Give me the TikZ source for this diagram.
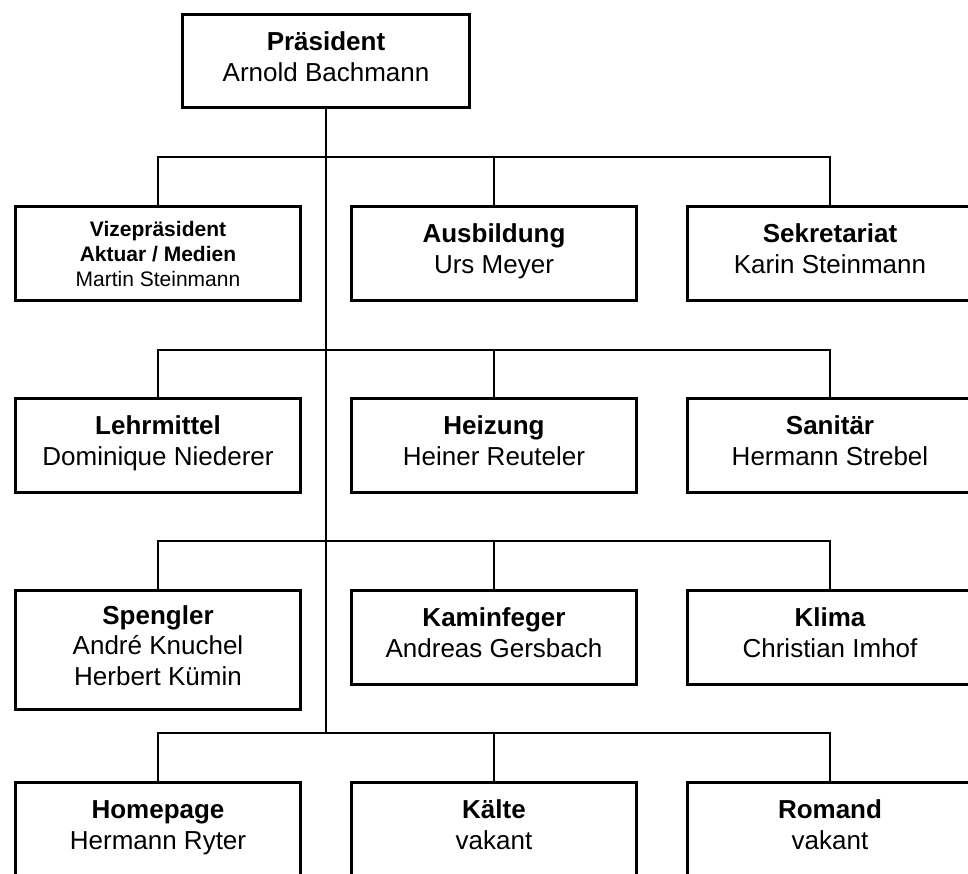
\documentclass[tikz,border=0pt]{standalone}
\usepackage{fontspec}
\setmainfont{Liberation Sans}
\newcommand\mybot{\rule[-9pt]{0pt}{9pt}}
\tikzset{
  unit/.style={draw, line width=3pt, minimum width=285pt, minimum height=94pt,
    inner sep=0pt, outer sep=0pt, align=center, font=\fontsize{26}{31}\selectfont},
  small/.style={font=\fontsize{21}{25}\selectfont},
  link/.style={line width=1.3pt},
}
\begin{document}
\begin{tikzpicture}[x=1pt,y=-1pt]
\useasboundingbox (0,0) rectangle (968,874);
\clip (0,0) rectangle (968,874);
% top
\node[unit, minimum width=287pt, minimum height=93pt] (pres) at (326,61) {\textbf{Präsident}\\Arnold Bachmann\mybot};
% row 1
\node[unit, small] (vize) at (158,253.5) {\textbf{Vizepräsident}\\\textbf{Aktuar / Medien}\\Martin Steinmann};
\node[unit] (ausb) at (494,253.5) {\textbf{Ausbildung}\\Urs Meyer\mybot};
\node[unit] (sekr) at (830,253.5) {\textbf{Sekretariat}\\Karin Steinmann\mybot};
% row 2
\node[unit] (lehr) at (158,445.5) {\textbf{Lehrmittel}\\Dominique Niederer\mybot};
\node[unit] (heiz) at (494,445.5) {\textbf{Heizung}\\Heiner Reuteler\mybot};
\node[unit] (sani) at (830,445.5) {\textbf{Sanitär}\\Hermann Strebel\mybot};
% row 3
\node[unit, minimum height=119pt, font=\fontsize{26}{30.5}\selectfont] (speng) at (158,650) {\textbf{Spengler}\\André Knuchel\\Herbert Kümin\mybot};
\node[unit] (kamin) at (494,637.5) {\textbf{Kaminfeger}\\Andreas Gersbach\mybot};
\node[unit] (klima) at (830,637.5) {\textbf{Klima}\\Christian Imhof\mybot};
% row 4
\node[unit] (home) at (158,829.5) {\textbf{Homepage}\\Hermann Ryter\mybot};
\node[unit] (kaelte) at (494,829.5) {\textbf{Kälte}\\vakant\mybot};
\node[unit] (romand) at (830,829.5) {\textbf{Romand}\\vakant\mybot};
% buses
\coordinate (b1) at (326,157);
\coordinate (b2) at (326,350);
\coordinate (b3) at (326,541);
\coordinate (b4) at (326,733);
\draw[link] (pres.south) -- (b4);
\draw[link] (vize.north) -- (vize.north |- b1) -- (sekr.north |- b1) -- (sekr.north);
\draw[link] (ausb.north) -- (ausb.north |- b1);
\draw[link] (lehr.north) -- (lehr.north |- b2) -- (sani.north |- b2) -- (sani.north);
\draw[link] (heiz.north) -- (heiz.north |- b2);
\draw[link] (speng.north) -- (speng.north |- b3) -- (klima.north |- b3) -- (klima.north);
\draw[link] (kamin.north) -- (kamin.north |- b3);
\draw[link] (home.north) -- (home.north |- b4) -- (romand.north |- b4) -- (romand.north);
\draw[link] (kaelte.north) -- (kaelte.north |- b4);
\end{tikzpicture}
\end{document}
